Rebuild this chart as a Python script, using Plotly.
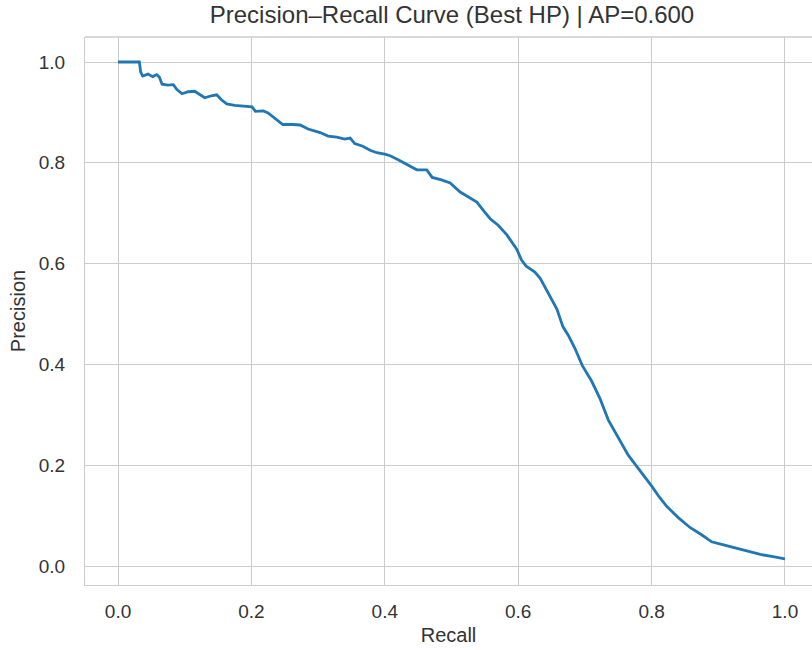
import plotly.graph_objects as go

recall = [0.000, 0.032, 0.034, 0.037, 0.045, 0.052, 0.058, 0.062, 0.066, 0.075, 0.083, 0.088,
          0.096, 0.105, 0.115, 0.122, 0.130, 0.140, 0.148, 0.155, 0.163, 0.175, 0.190, 0.201,
          0.206, 0.218, 0.225, 0.237, 0.247, 0.262, 0.273, 0.285, 0.303, 0.315, 0.328, 0.340,
          0.348, 0.355, 0.367, 0.378, 0.388, 0.400, 0.408, 0.420, 0.435, 0.448, 0.463, 0.471,
          0.485, 0.498, 0.513, 0.525, 0.538, 0.548, 0.558, 0.570, 0.583, 0.598, 0.605, 0.612,
          0.625, 0.633, 0.642, 0.650, 0.658, 0.667, 0.675, 0.685, 0.696, 0.710, 0.723, 0.735,
          0.745, 0.753, 0.765, 0.778, 0.790, 0.801, 0.812, 0.823, 0.840, 0.858, 0.875, 0.890,
          0.905, 0.922, 0.940, 0.963, 0.980, 1.000]
precision = [1.000, 1.000, 0.980, 0.972, 0.976, 0.971, 0.975, 0.970, 0.956, 0.954, 0.955, 0.946,
             0.937, 0.941, 0.942, 0.936, 0.929, 0.933, 0.935, 0.925, 0.917, 0.914, 0.913, 0.911,
             0.902, 0.903, 0.899, 0.886, 0.876, 0.876, 0.875, 0.867, 0.860, 0.853, 0.851, 0.847,
             0.849, 0.838, 0.833, 0.825, 0.820, 0.817, 0.814, 0.806, 0.796, 0.786, 0.786, 0.771,
             0.766, 0.760, 0.742, 0.733, 0.722, 0.705, 0.689, 0.676, 0.657, 0.628, 0.607, 0.595,
             0.583, 0.571, 0.549, 0.531, 0.510, 0.475, 0.458, 0.432, 0.398, 0.367, 0.331, 0.290,
             0.266, 0.246, 0.220, 0.197, 0.177, 0.157, 0.136, 0.118, 0.096, 0.076, 0.062, 0.048,
             0.043, 0.037, 0.030, 0.023, 0.019, 0.014]

tick_vals = [0.0, 0.2, 0.4, 0.6, 0.8, 1.0]
tick_text = ["0.0", "0.2", "0.4", "0.6", "0.8", "1.0"]
title_text = "Precision–Recall Curve (Best HP) | AP=0.600"

FONT = "Liberation Sans, Arial, sans-serif"
TXT = "#333333"
GRID = "#cccccc"

fig = go.Figure()
fig.add_trace(go.Scatter(x=recall, y=precision, mode="lines",
                         line=dict(color="#1f77b4", width=2.8), showlegend=False))

fig.update_layout(
    width=812, height=650,
    margin=dict(l=85, r=0, t=37, b=65, autoexpand=False),
    paper_bgcolor="white", plot_bgcolor="white",
    font=dict(family=FONT, color=TXT),
    title=dict(text=title_text, x=452 / 812, xref="container", xanchor="center",
               y=1 - 15 / 650, yref="container", yanchor="middle", automargin=False,
               font=dict(size=24, family=FONT, color=TXT)),
)
fig.update_xaxes(range=[-0.0495, 1.0405], tickvals=tick_vals, ticktext=tick_text,
                 automargin=False,
                 showgrid=True, gridcolor=GRID, gridwidth=1.3, zeroline=False,
                 showline=True, linecolor=GRID, linewidth=1.3,
                 ticks="outside", ticklen=9, tickcolor="rgba(0,0,0,0)",
                 tickfont=dict(size=19, family=FONT, color=TXT),
                 title=dict(text="Recall", font=dict(size=20, family=FONT, color=TXT), standoff=7))
fig.update_yaxes(range=[-0.0377, 1.0496], tickvals=tick_vals, ticktext=tick_text,
                 automargin=False,
                 showgrid=True, gridcolor=GRID, gridwidth=1.3, zeroline=False,
                 showline=True, linecolor=GRID, linewidth=1.3,
                 ticks="outside", ticklen=15, tickcolor="rgba(0,0,0,0)",
                 tickfont=dict(size=19, family=FONT, color=TXT),
                 title=dict(text="Precision", font=dict(size=20, family=FONT, color=TXT), standoff=7))
# top spine
fig.add_shape(type="line", xref="paper", yref="paper", x0=0, x1=1, y0=1, y1=1,
              line=dict(color=GRID, width=1.3))

fig.write_html("out.html", config={"displayModeBar": False},
               post_script="document.body.style.margin='0';document.body.style.padding='0';")
